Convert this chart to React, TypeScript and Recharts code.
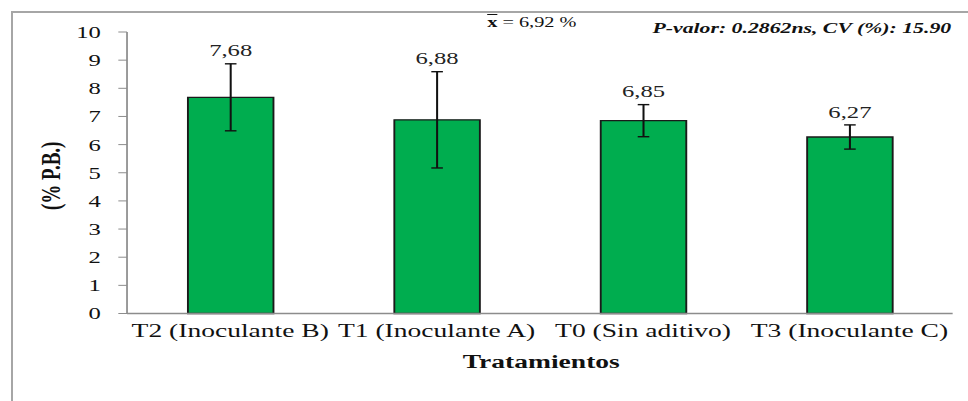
import { BarChart, Bar, XAxis, YAxis, ErrorBar, LabelList } from "recharts";

// The source image is stretched horizontally, so the chart is drawn narrower and widened with scaleX.
const STRETCH = 1.45;
const BASE_W = 668;
const H = 401;

const CATEGORIES = [
  "T2 (Inoculante B)",
  "T1 (Inoculante A)",
  "T0 (Sin aditivo)",
  "T3 (Inoculante C)"
];
const MEANS = [7.68, 6.88, 6.85, 6.27];
const ERRORS = [1.19, 1.71, 0.57, 0.43];
const Y_TICKS = [0, 1, 2, 3, 4, 5, 6, 7, 8, 9, 10];

const data = CATEGORIES.map((name, i) => ({
  name,
  mean: MEANS[i],
  err: ERRORS[i]
}));

const SERIF = "'Liberation Serif', 'Times New Roman', serif";
const fmt = (v: number) => v.toFixed(2).replace(".", ",");

const XTick = ({ x, y, payload }: any) => (
  <text x={x} y={y} dy={16} textAnchor="middle" fontFamily={SERIF} fontSize={19} fill="#111">
    {payload.value}
  </text>
);

const YTick = ({ x, y, payload }: any) => (
  <text x={x - 10} y={y} dy={6} textAnchor="end" fontFamily={SERIF} fontSize={17} fill="#111">
    {payload.value}
  </text>
);

const YTitle = ({ viewBox }: any) => {
  const cx = viewBox.x + 35;
  const cy = viewBox.y + viewBox.height / 2 + 3;
  return (
    <text
      x={cx}
      y={cy}
      transform={`rotate(-90 ${cx} ${cy})`}
      textAnchor="middle"
      dominantBaseline="central"
      fontFamily={SERIF}
      fontSize={19}
      fontWeight="bold"
      fill="#111"
    >
      (% P.B.)
    </text>
  );
};

const XTitle = ({ viewBox }: any) => (
  <text
    x={viewBox.x + viewBox.width / 2 + 1}
    y={viewBox.y + 55}
    textAnchor="middle"
    fontFamily={SERIF}
    fontSize={19}
    fontWeight="bold"
    fill="#111"
  >
    Tratamientos
  </text>
);

// value label sits just above the top of the error bar
const MeanLabel = (props: any) => {
  const { x, y, width, height, value, index } = props;
  const errPx = (height / value) * ERRORS[index];
  return (
    <text
      x={x + width / 2}
      y={y - errPx - 13}
      dominantBaseline="central"
      textAnchor="middle"
      fontFamily={SERIF}
      fontSize={17}
      fill="#222"
    >
      {fmt(value)}
    </text>
  );
};

export default function App() {
  return (
    <div style={{ position: "absolute", left: 0, top: 0, width: 968, height: H, background: "#fff" }}>
      <div
        style={{
          position: "absolute",
          left: 11,
          top: 11,
          right: 0,
          bottom: 0,
          borderLeft: "2px solid #a6a6a6",
          borderTop: "2px solid #a6a6a6"
        }}
      />
      <div
        style={{
          position: "absolute",
          left: 0,
          top: 0,
          width: BASE_W,
          height: H,
          transform: `scaleX(${STRETCH})`,
          transformOrigin: "0 0"
        }}
      >
        <div
          style={{
            position: "absolute",
            left: 336,
            top: 15,
            fontFamily: SERIF,
            fontSize: 14,
            whiteSpace: "nowrap",
            color: "#111"
          }}
        >
          <span style={{ textDecoration: "overline", fontWeight: "bold" }}>x</span> = 6,92 %
        </div>
        <div
          style={{
            position: "absolute",
            left: 450,
            top: 20,
            fontFamily: SERIF,
            fontSize: 15,
            fontWeight: "bold",
            fontStyle: "italic",
            whiteSpace: "nowrap",
            color: "#111"
          }}
        >
          P-valor: 0.2862ns, CV (%): 15.90
        </div>
        <BarChart
          width={BASE_W}
          height={H}
          data={data}
          margin={{ top: 32, right: 11, left: 0, bottom: 0 }}
        >
          <XAxis
            dataKey="name"
            height={87.5}
            tickLine={false}
            axisLine={{ stroke: "#8c8c8c", strokeWidth: 1.5 }}
            tick={<XTick />}
            interval={0}
            label={<XTitle />}
          />
          <YAxis
            width={87.6}
            domain={[0, 10]}
            ticks={Y_TICKS}
            interval={0}
            tickSize={6}
            tickLine={{ stroke: "#8c8c8c" }}
            axisLine={{ stroke: "#8c8c8c", strokeWidth: 1.2 }}
            tick={<YTick />}
            label={<YTitle />}
          />
          <Bar
            dataKey="mean"
            fill="#00ad4f"
            stroke="#1a1a1a"
            strokeWidth={1.3}
            barSize={59}
            isAnimationActive={false}
          >
            <ErrorBar
              dataKey="err"
              direction="y"
              width={4}
              stroke="#111"
              strokeWidth={1.4}
              isAnimationActive={false}
            />
            <LabelList dataKey="mean" content={<MeanLabel />} />
          </Bar>
        </BarChart>
      </div>
    </div>
  );
}
